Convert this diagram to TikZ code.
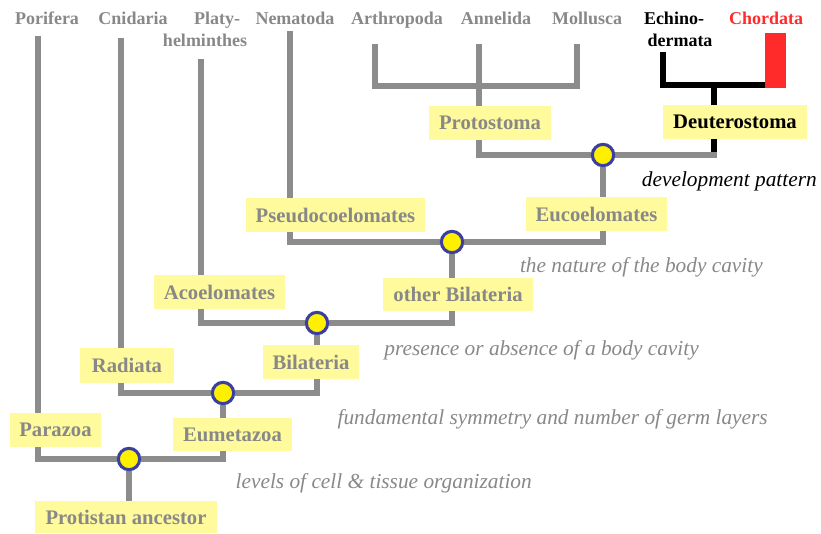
\documentclass[tikz,border=0pt]{standalone}
\usepackage{fontspec}
\setmainfont{Liberation Serif}
\usetikzlibrary{backgrounds}
\definecolor{lgray}{HTML}{8C8C8C}
\definecolor{tgray}{HTML}{888888}
\definecolor{boxy}{HTML}{FFFA9C}
\definecolor{hubfill}{HTML}{FFF000}
\definecolor{hubring}{HTML}{3A3FA0}
\definecolor{chred}{HTML}{FF2B2B}
\begin{document}
\begin{tikzpicture}[x=0.75pt,y=-0.75pt,
  branch/.style={draw=lgray, line width=5.2pt},
  dbranch/.style={draw=black, line width=5.2pt},
  box/.style 2 args={fill=boxy, minimum width=#1*0.75pt, minimum height=#2*0.75pt, inner sep=0pt,
     font=\fontsize{15.5}{18}\selectfont\bfseries, text=tgray},
  toplab/.style={font=\fontsize{13.5}{16}\selectfont\bfseries, text=tgray, anchor=base, inner sep=0pt},
  note/.style={font=\fontsize{16}{19}\selectfont\itshape, text=tgray, anchor=base east, inner sep=0pt},
  hub/.style={circle, fill=hubfill, draw=hubring, line width=2.3pt, minimum size=16pt, inner sep=0pt}]
\useasboundingbox (0,0) rectangle (821,533);

% top labels
\node[toplab] (lpor) at (47,24) {Porifera};
\node[toplab] (lcni) at (133,24) {Cnidaria};
\node[toplab] (lpla) at (217,24) {Platy-};
\node[toplab] (lhel) at (205,46) {helminthes};
\node[toplab] (lnem) at (295,24) {Nematoda};
\node[toplab] (lart) at (397,24) {Arthropoda};
\node[toplab] (lann) at (496,24) {Annelida};
\node[toplab] (lmol) at (587,24) {Mollusca};
\node[toplab, text=black] (lech) at (674,24) {Echino-};
\node[toplab, text=black] (lder) at (680,46) {dermata};
\node[toplab, text=chred] (lcho) at (766,24) {Chordata};

% line end coordinates
\coordinate (pT) at (38,36);
\coordinate (cT) at (121,38);
\coordinate (plT) at (201,59);
\coordinate (nT) at (290,31);
\coordinate (arT) at (375,44);
\coordinate (aT) at (479,44);
\coordinate (moT) at (577,44);
\coordinate (pj) at (479,86);
\coordinate (eT) at (663,52);
\coordinate (dT) at (714,85);
\coordinate (dJ) at (714,155);

% chordata bar
\node[fill=chred, minimum width=21*0.75pt, minimum height=55*0.75pt, inner sep=0pt] (chord) at (775.5,60.5) {};

% boxes
\node[box={182}{32}] (prot) at (126,517) {Protistan ancestor};
\node[box={91}{34}] (para) at (55.5,430) {Parazoa};
\node[box={119}{33}] (eum) at (232.5,434.5) {Eumetazoa};
\node[box={94}{35}] (rad) at (127,365.5) {Radiata};
\node[box={96}{34}] (bil) at (311,362) {Bilateria};
\node[box={131}{34}] (aco) at (219.5,292) {Acoelomates};
\node[box={150}{33}] (obil) at (458,294.5) {other Bilateria};
\node[box={179}{34}] (pseudo) at (335.5,215) {Pseudocoelomates};
\node[box={141}{34}] (euco) at (596.5,214) {Eucoelomates};
\node[box={122}{34}] (proto) at (490,123) {Protostoma};
\node[box={144}{34}, text=black] (deut) at (735,122) {Deuterostoma};

% hubs
\node[hub] (c1) at (603,155) {};
\node[hub] (c2) at (452,242) {};
\node[hub] (c3) at (317,323) {};
\node[hub] (c4) at (223,393) {};
\node[hub] (c5) at (129,459) {};

% notes
\node[note, text=black] (n1) at (817,186) {development pattern};
\node[note] (n2) at (763,272) {the nature of the body cavity};
\node[note] (n3) at (699,355) {presence or absence of a body cavity};
\node[note] (n4) at (768,424) {fundamental symmetry and number of germ layers};
\node[note] (n5) at (532,488) {levels of cell \& tissue organization};

\begin{scope}[on background layer]
  \draw[branch] (pT) |- (c5);
  \draw[branch] (c5) -- (c5 |- prot.center);
  \draw[branch] (c5) -| (c4);
  \draw[branch] (cT) |- (c4);
  \draw[branch] (c4) -| (c3);
  \draw[branch] (plT) |- (c3);
  \draw[branch] (c3) -| (c2);
  \draw[branch] (nT) |- (c2);
  \draw[branch] (c2) -| (c1);
  \draw[branch] (c1) -| (aT);
  \draw[branch] (arT) |- (pj) -| (moT);
  \draw[dbranch] (dT) -- (dJ);
  \draw[branch, line cap=rect] (c1) -- (dJ);
  \draw[dbranch] (eT) |- (dT) -- (dT -| chord.center);
\end{scope}
\end{tikzpicture}
\end{document}
